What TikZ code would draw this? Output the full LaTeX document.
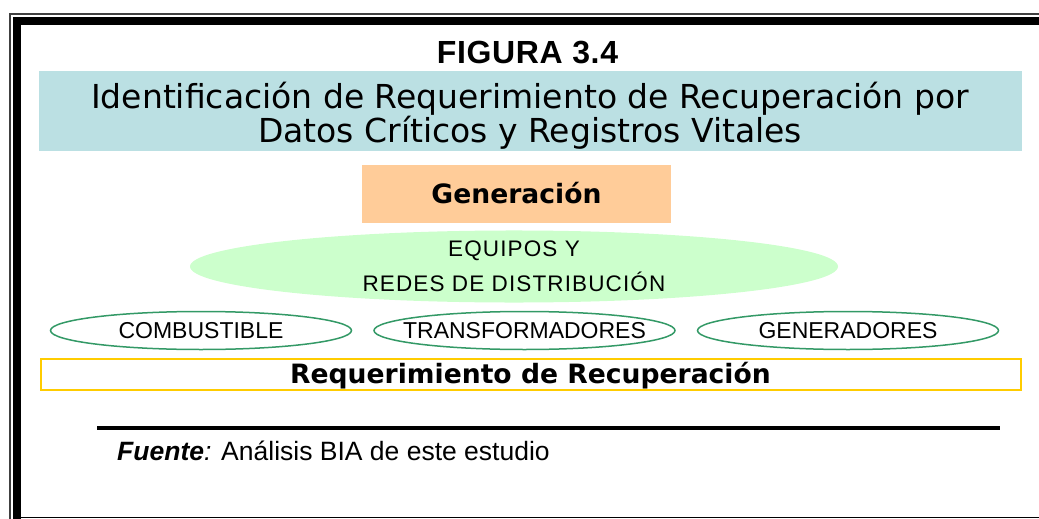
\documentclass[tikz,border=0pt]{standalone}
\usepackage{fontspec}
\setmainfont{Liberation Sans}
\newfontfamily\titfont{DejaVu Sans}
\usetikzlibrary{shapes.geometric}
\definecolor{cajaazul}{RGB}{187,224,227}
\definecolor{cajanaranja}{RGB}{255,204,153}
\definecolor{verdeclaro}{RGB}{204,255,204}
\definecolor{verdeborde}{RGB}{51,153,102}
\definecolor{amarillo}{RGB}{255,204,0}
\tikzset{
  elipse/.style={ellipse, draw=verdeborde, line width=1.5pt, minimum width=301pt, minimum height=38pt, inner ysep=0pt, inner xsep=-40pt, text height=16.5pt, text depth=0pt, font=\fontsize{23}{27}\selectfont},
  negrita/.style={inner sep=0pt, text height=19.5pt, text depth=0pt, font=\titfont\bfseries\fontsize{26.6}{32}\selectfont}
}
\begin{document}
\begin{tikzpicture}[x=1pt,y=-1pt]
\useasboundingbox (0,0) rectangle (1039,519);
\draw[line width=1.5pt,black!75] (10,519)--(10,14)--(1039,14);
\draw[line width=8pt] (17,519)--(17,21)--(1039,21);
\draw[line width=1pt] (21,517.5)--(1039,517.5);
\node[anchor=base, font=\bfseries\fontsize{32}{38}\selectfont\addfontfeature{LetterSpace=2}] (figura) at (527.5,64) {FIGURA 3.4};
\node[fill=cajaazul, minimum width=983pt, minimum height=80pt, inner sep=0pt] (titulo) at (530.5,111) {};
\node[align=center, inner sep=0pt, font=\titfont\fontsize{33}{32}\selectfont] (titulotexto) at (530,116) {Identificación de Requerimiento de Recuperación por\\Datos Críticos y Registros Vitales};
\node[fill=cajanaranja, minimum width=309pt, minimum height=58pt, negrita] (generacion) at (516.5,194) {Generación};
\node[ellipse, fill=verdeclaro, minimum width=648pt, minimum height=70pt, inner sep=0pt, align=center, font=\fontsize{22.5}{35}\selectfont\addfontfeature{LetterSpace=5}] (equipos) at (514,266.5) {EQUIPOS Y\\REDES DE DISTRIBUCIÓN};
\foreach \x/\nombre/\texto in {201/combustible/COMBUSTIBLE, 524.5/transformadores/TRANSFORMADORES, 848/generadores/GENERADORES}
  \node[elipse] (\nombre) at (\x,330.5) {\texto};
\node[draw=amarillo, line width=2pt, minimum width=980pt, minimum height=31pt, negrita] (requerimiento) at (530.5,374.2) {Requerimiento de Recuperación};
\draw[line width=4pt] (97,428)--(1000,428);
\node[anchor=base west, inner sep=0pt, font=\fontsize{26.5}{30}\selectfont] (fuente) at (117,460.5) {\textbf{\textit{Fuente}}\textit{:} Análisis BIA de este estudio};
\end{tikzpicture}
\end{document}
